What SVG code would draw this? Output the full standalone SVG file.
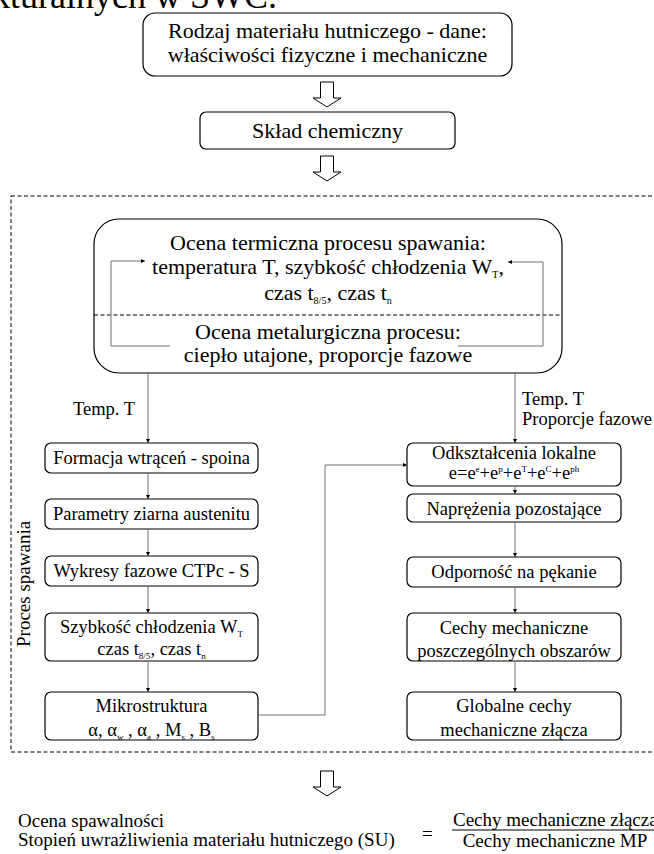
<svg xmlns="http://www.w3.org/2000/svg" width="654" height="854" viewBox="0 0 654 854">
<style>
text{font-family:"Liberation Serif","Times New Roman",serif;fill:#000}
.c{text-anchor:middle}
.b{fill:#fff;stroke:#000;stroke-width:1.2}
.ln{fill:none;stroke:#707070;stroke-width:1}
.dash{fill:none;stroke:#000;stroke-width:1;stroke-dasharray:4 2.5}
.ha{fill:#fff;stroke:#000;stroke-width:1}
.f22{font-size:22px}
.f18{font-size:18.5px}
.f19{font-size:19px}
</style>
<defs>
<marker id="ah" markerUnits="userSpaceOnUse" viewBox="0 0 10 10" refX="10" refY="5" markerWidth="5" markerHeight="4" orient="auto"><path d="M0,0 L10,5 L0,10 z" fill="#000"/></marker>
<marker id="ahl" markerUnits="userSpaceOnUse" viewBox="0 0 10 10" refX="10" refY="5" markerWidth="9" markerHeight="4" orient="auto"><path d="M0,0 L10,5 L0,10 z" fill="#000"/></marker>
<path id="harrow" d="M-6.5,0 H6.5 V16 H14 L0,25 L-14,16 H-6.5 Z"/>
</defs>

<text x="-8" y="8" style="font-size:36px">kturalnych w SWC.</text>

<g id="frame">
<rect class="dash" x="11" y="196" width="660" height="556"/>
<text class="f19" transform="translate(30,647) rotate(-90)">Proces spawania</text>
</g>

<g id="n1">
<rect class="b" x="143" y="13" width="369" height="63" rx="12"/>
<text class="c f22" x="327.5" y="38">Rodzaj materiału hutniczego - dane:</text>
<text class="c f22" x="327.5" y="62">właściwości fizyczne i mechaniczne</text>
</g>
<g id="n2">
<rect class="b" x="200" y="112" width="255" height="37" rx="6"/>
<text class="c f22" x="327.5" y="138">Skład chemiczny</text>
</g>
<g id="n3">
<rect class="b" x="94" y="219" width="468" height="154" rx="25"/>
<text class="c f22" x="328" y="250">Ocena termiczna procesu spawania:</text>
<text class="c f22" x="328" y="274">temperatura T, szybkość chłodzenia W<tspan style="font-size:10px" dy="4">T</tspan><tspan dy="-4">,</tspan></text>
<text class="c f22" x="328" y="300">czas t<tspan style="font-size:10px" dy="4">8/5</tspan><tspan dy="-4">, czas t</tspan><tspan style="font-size:10px" dy="4">n</tspan></text>
<line class="dash" x1="94" y1="315" x2="562" y2="315"/>
<text class="c f22" x="328" y="339">Ocena metalurgiczna procesu:</text>
<text class="c f22" x="328" y="362">ciepło utajone, proporcje fazowe</text>
</g>

<g id="n4">
<rect class="b" x="45" y="443" width="213" height="30" rx="6"/>
<text class="c f18" x="151.5" y="464">Formacja wtrąceń - spoina</text>
</g>
<g id="n5">
<rect class="b" x="45" y="499" width="213" height="30" rx="6"/>
<text class="c f18" x="151.5" y="520">Parametry ziarna austenitu</text>
</g>
<g id="n6">
<rect class="b" x="45" y="556" width="213" height="30" rx="6"/>
<text class="c f18" x="151.5" y="577">Wykresy fazowe CTPc - S</text>
</g>
<g id="n7">
<rect class="b" x="45" y="613" width="213" height="48" rx="6"/>
<text class="c f18" x="151.5" y="633">Szybkość chłodzenia W<tspan style="font-size:9px" dy="4">T</tspan></text>
<text class="c f18" x="151.5" y="655">czas t<tspan style="font-size:9px" dy="4">8/5</tspan><tspan dy="-4">, czas t</tspan><tspan style="font-size:9px" dy="4">n</tspan></text>
</g>
<g id="n8">
<rect class="b" x="45" y="692" width="213" height="48" rx="6"/>
<text class="c f18" x="151.5" y="712">Mikrostruktura</text>
<text class="c f18" x="151.5" y="736">α, α<tspan style="font-size:9px" dy="4">w</tspan><tspan dy="-4"> , α</tspan><tspan style="font-size:9px" dy="4">a</tspan><tspan dy="-4"> , M</tspan><tspan style="font-size:9px" dy="4">s</tspan><tspan dy="-4"> , B</tspan><tspan style="font-size:9px" dy="4">s</tspan></text>
</g>

<g id="n9">
<rect class="b" x="407" y="443" width="214" height="43" rx="6"/>
<text class="c f18" x="514" y="459">Odkształcenia lokalne</text>
<text class="c f18" x="514" y="479">e=e<tspan style="font-size:9px" dy="-7">e</tspan><tspan dy="7">+e</tspan><tspan style="font-size:9px" dy="-7">p</tspan><tspan dy="7">+e</tspan><tspan style="font-size:9px" dy="-7">T</tspan><tspan dy="7">+e</tspan><tspan style="font-size:9px" dy="-7">C</tspan><tspan dy="7">+e</tspan><tspan style="font-size:9px" dy="-7">ph</tspan></text>
</g>
<g id="n10">
<rect class="b" x="407" y="494" width="214" height="28" rx="6"/>
<text class="c f18" x="514" y="515">Naprężenia pozostające</text>
</g>
<g id="n11">
<rect class="b" x="407" y="557" width="214" height="30" rx="6"/>
<text class="c f18" x="514" y="578">Odporność na pękanie</text>
</g>
<g id="n12">
<rect class="b" x="407" y="613" width="214" height="48" rx="6"/>
<text class="c f18" x="514" y="634">Cechy mechaniczne</text>
<text class="c f18" x="514" y="657">poszczególnych obszarów</text>
</g>
<g id="n13">
<rect class="b" x="407" y="692" width="214" height="48" rx="6"/>
<text class="c f18" x="514" y="712">Globalne cechy</text>
<text class="c f18" x="514" y="736">mechaniczne złącza</text>
</g>

<g id="connectors">
<use href="#harrow" class="ha" x="327" y="82"/>
<use href="#harrow" class="ha" x="327" y="156"/>
<use href="#harrow" class="ha" x="327" y="771"/>
<polyline class="ln" points="170,346 111,346 111,261 145,261" marker-end="url(#ahl)"/>
<polyline class="ln" points="458,346 543,346 543,262 508,262" marker-end="url(#ahl)"/>
<line class="ln" x1="148" y1="373" x2="148" y2="443" marker-end="url(#ah)"/>
<line class="ln" x1="148" y1="473" x2="148" y2="499" marker-end="url(#ah)"/>
<line class="ln" x1="148" y1="529" x2="148" y2="556" marker-end="url(#ah)"/>
<line class="ln" x1="148" y1="586" x2="148" y2="613" marker-end="url(#ah)"/>
<line class="ln" x1="148" y1="661" x2="148" y2="692" marker-end="url(#ah)"/>
<line class="ln" x1="515" y1="373" x2="515" y2="443" marker-end="url(#ah)"/>
<line class="ln" x1="515" y1="486" x2="515" y2="494" marker-end="url(#ah)"/>
<line class="ln" x1="515" y1="522" x2="515" y2="557" marker-end="url(#ah)"/>
<line class="ln" x1="515" y1="587" x2="515" y2="613" marker-end="url(#ah)"/>
<line class="ln" x1="515" y1="661" x2="515" y2="692" marker-end="url(#ah)"/>
<polyline class="ln" points="258,715 325,715 325,465 407,465" marker-end="url(#ah)"/>
<text class="f18" x="73" y="415">Temp. T</text>
<text class="f18" x="522" y="405">Temp. T</text>
<text class="f18" x="522" y="425">Proporcje fazowe</text>
</g>

<g id="result">
<text class="f19" x="18" y="827">Ocena spawalności</text>
<text class="f19" x="18" y="846">Stopień uwrażliwienia materiału hutniczego (SU)</text>
<text class="f19" x="422" y="840">=</text>
<text class="f19" x="453" y="826">Cechy mechaniczne złącza</text>
<line x1="452" y1="830" x2="660" y2="830" stroke="#000" stroke-width="1"/>
<text class="f19 c" x="555" y="847">Cechy mechaniczne MP</text>
</g>
</svg>
